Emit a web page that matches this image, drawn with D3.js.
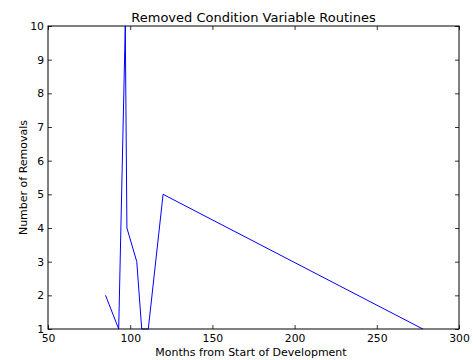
<!DOCTYPE html>
<html>
<head>
<meta charset="utf-8">
<script src="https://cdn.jsdelivr.net/npm/d3@7"></script>
<style>
  body { margin: 0; background: #fff; }
  svg text { font-family: "DejaVu Sans", sans-serif; fill: #000; }
</style>
</head>
<body>
<div id="chart"></div>
<script>
// data
const months = [85, 93, 97, 98, 104, 107, 111, 120, 278];
const removals = [2, 1, 10, 4, 3, 1, 1, 5, 1];
const xTicks = [50, 100, 150, 200, 250, 300];
const yTicks = [1, 2, 3, 4, 5, 6, 7, 8, 9, 10];

const width = 473, height = 360;
const margin = {top: 26, right: 14, bottom: 31, left: 48};
const w = width - margin.left - margin.right;
const h = height - margin.top - margin.bottom;

let svg = d3.select("#chart")
    .append("svg")
    .attr("width", width)
    .attr("height", height);

let g = svg.append("g")
    .attr("transform", `translate(${margin.left},${margin.top})`);

let x = d3.scaleLinear().domain([50, 300]).range([0, w]);
let y = d3.scaleLinear().domain([1, 10]).range([h, 0]);

let data = months.map((m, i) => ({m: m, r: removals[i]}));

g.append("path")
    .datum(data)
    .attr("fill", "none")
    .attr("stroke", "#0000ff")
    .attr("stroke-width", 1)
    .attr("d", d3.line().x(d => x(d.m)).y(d => y(d.r)));

// inward ticks on all four sides, matplotlib classic look
function styleAxis(sel) {
    sel.select(".domain").remove();
    sel.selectAll(".tick line").attr("stroke", "#000").attr("stroke-width", 0.8);
    sel.selectAll(".tick text").style("font-size", "10.8px").style("font-family", "DejaVu Sans");
}

g.append("g")
    .attr("transform", `translate(0,${h})`)
    .call(d3.axisBottom(x).tickValues(xTicks).tickSize(-4).tickPadding(5))
    .call(styleAxis);

g.append("g")
    .call(d3.axisTop(x).tickValues(xTicks).tickSize(-4).tickFormat(""))
    .call(styleAxis);

g.append("g")
    .call(d3.axisLeft(y).tickValues(yTicks).tickSize(-4).tickPadding(4))
    .call(styleAxis);

g.append("g")
    .attr("transform", `translate(${w},0)`)
    .call(d3.axisRight(y).tickValues(yTicks).tickSize(-4).tickFormat(""))
    .call(styleAxis);

g.append("rect")
    .attr("width", w)
    .attr("height", h)
    .attr("fill", "none")
    .attr("stroke", "#000")
    .attr("stroke-width", 1);

svg.append("text")
    .attr("x", margin.left + w / 2)
    .attr("y", 22)
    .style("text-anchor", "middle")
    .style("font-size", "13px")
    .text("Removed Condition Variable Routines");

svg.append("text")
    .attr("x", 251)
    .attr("y", 355.5)
    .style("text-anchor", "middle")
    .style("font-size", "11px")
    .text("Months from Start of Development");

svg.append("text")
    .attr("transform", `translate(26.5,${margin.top + h / 2}) rotate(-90)`)
    .style("text-anchor", "middle")
    .style("font-size", "11px")
    .text("Number of Removals");
</script>
</body>
</html>
